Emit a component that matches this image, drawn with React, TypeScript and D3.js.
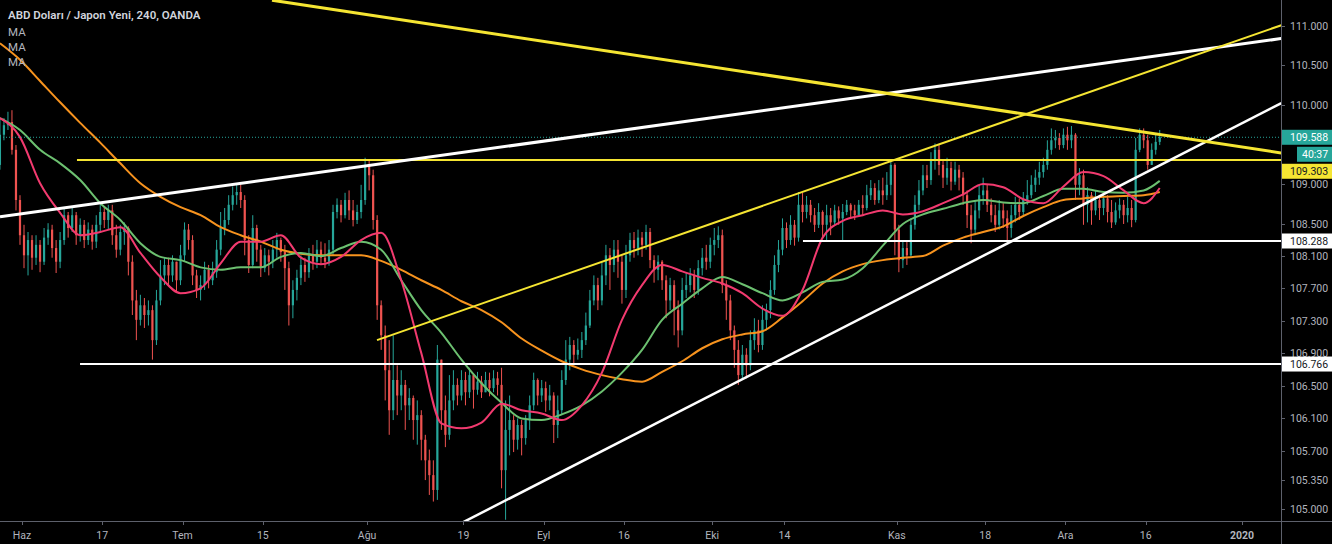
import React from 'react';
import * as d3 from 'd3';

// ---- data (USD/JPY, half-day bars, open = previous close) ----
const firstOpen = 109.24;
const closes = [
  109.62,109.74,109.78,109.43,108.80,108.36,108.11,108.30,108.08,108.24,
  108.03,108.33,108.43,108.20,108.03,108.30,108.61,108.45,108.61,108.36,
  108.49,108.30,108.43,108.28,108.49,108.65,108.55,108.67,108.36,108.18,
  108.40,108.45,108.03,107.55,107.31,107.49,107.37,107.43,107.06,107.55,
  107.86,107.99,107.86,108.03,107.80,108.11,108.43,108.30,107.86,107.68,
  107.74,107.93,107.80,107.90,108.18,108.45,108.55,108.74,108.86,108.90,
  108.80,108.30,107.99,108.45,108.18,107.95,108.11,108.03,108.18,108.30,
  108.15,107.95,107.49,107.68,107.83,107.99,107.90,108.11,108.03,108.18,
  108.08,108.03,108.18,108.65,108.74,108.61,108.80,108.67,108.55,108.65,
  108.80,109.24,109.11,108.55,107.49,107.12,106.69,106.20,106.57,106.38,
  106.51,106.26,106.35,106.08,106.14,105.84,105.59,105.41,105.23,106.82,
  106.20,105.90,106.32,106.51,106.38,106.57,106.42,106.63,106.45,106.55,
  106.42,106.57,106.47,106.59,106.51,105.47,105.96,106.08,105.84,106.02,
  105.86,106.08,106.26,106.57,106.38,106.47,106.32,106.38,106.02,106.20,
  106.57,106.82,107.00,106.88,106.94,107.06,107.24,107.55,107.74,107.55,
  107.86,108.11,107.99,108.18,108.03,107.68,108.11,108.30,108.20,108.33,
  108.24,108.40,108.05,107.93,108.03,107.80,107.55,107.74,107.43,107.18,
  107.68,107.74,107.86,107.68,107.95,108.08,108.03,108.24,108.30,108.36,
  107.74,107.55,107.18,106.94,106.63,106.88,106.75,107.06,107.18,107.00,
  107.31,107.43,107.68,107.99,108.18,108.45,108.30,108.49,108.33,108.74,
  108.65,108.74,108.61,108.49,108.65,108.49,108.61,108.52,108.67,108.57,
  108.65,108.74,108.67,108.61,108.74,108.70,108.86,108.95,108.80,108.92,
  108.86,108.99,109.24,108.43,108.05,108.20,108.11,108.49,108.74,108.92,
  109.11,109.05,109.30,109.43,109.24,109.08,109.20,109.03,109.18,109.08,
  108.86,108.61,108.43,108.67,108.86,108.92,108.74,108.61,108.49,108.67,
  108.57,108.45,108.61,108.74,108.65,108.80,108.86,108.99,109.08,109.15,
  109.24,109.43,109.55,109.58,109.49,109.62,109.55,109.62,108.99,109.11,
  108.74,108.86,108.67,108.80,108.70,108.82,108.65,108.52,108.67,108.74,
  108.61,108.70,108.55,109.43,109.62,109.55,109.24,109.43,109.53,109.588,
];
const highs = [
  109.83,109.83,109.91,109.93,109.49,108.86,108.49,108.40,108.36,108.36,
  108.30,108.45,108.51,108.49,108.30,108.40,108.71,108.65,108.71,108.65,
  108.57,108.55,108.52,108.49,108.61,108.74,108.71,108.74,108.74,108.49,
  108.49,108.52,108.47,108.11,107.68,107.62,107.58,107.55,107.49,107.68,
  108.05,108.08,108.08,108.11,108.03,108.24,108.52,108.50,108.36,107.93,
  107.86,108.03,107.99,108.03,108.30,108.65,108.70,108.86,108.97,109.01,
  108.99,108.86,108.36,108.61,108.49,108.24,108.20,108.18,108.30,108.39,
  108.33,108.24,108.03,107.80,107.93,108.11,108.08,108.20,108.24,108.30,
  108.28,108.26,108.30,108.74,108.82,108.80,108.89,108.92,108.80,108.74,
  108.99,109.33,109.30,109.18,108.61,107.55,107.24,107.06,107.12,106.75,
  106.69,106.57,106.47,106.38,106.32,106.20,105.90,105.72,105.59,107.00,
  106.75,106.38,106.63,106.69,106.59,106.69,106.67,106.72,106.63,106.67,
  106.62,106.67,106.66,106.69,106.67,106.72,106.32,106.38,106.14,106.10,
  106.08,106.14,106.38,106.66,106.59,106.57,106.55,106.51,106.42,106.38,
  106.69,107.06,107.10,107.06,107.08,107.16,107.40,107.68,107.86,107.83,
  108.03,108.24,108.20,108.30,108.30,108.11,108.24,108.39,108.40,108.43,
  108.40,108.49,108.45,108.11,108.11,108.05,107.86,107.83,107.80,107.55,
  107.83,107.90,107.95,107.93,108.05,108.20,108.24,108.33,108.45,108.47,
  108.43,107.80,107.62,107.24,107.06,107.00,106.96,107.18,107.33,107.31,
  107.49,107.51,107.80,108.11,108.30,108.57,108.52,108.61,108.55,108.90,
  108.89,108.85,108.80,108.70,108.76,108.67,108.74,108.70,108.74,108.72,
  108.75,108.80,108.76,108.74,108.80,108.86,108.99,109.05,109.01,109.05,
  109.08,109.15,109.30,109.26,108.49,108.30,108.28,108.57,108.86,109.05,
  109.24,109.24,109.40,109.51,109.49,109.30,109.33,109.28,109.28,109.24,
  109.15,108.92,108.74,108.80,108.99,109.08,108.99,108.82,108.74,108.80,
  108.76,108.67,108.74,108.84,108.82,108.90,109.05,109.11,109.18,109.28,
  109.33,109.55,109.70,109.68,109.64,109.70,109.72,109.73,109.64,109.20,
  109.18,108.96,108.90,108.92,108.84,108.90,108.86,108.80,108.77,108.82,
  108.80,108.84,108.80,109.58,109.70,109.70,109.62,109.51,109.62,109.68,
];
const lows = [
  109.18,109.55,109.68,109.37,108.67,108.24,107.95,107.86,107.93,107.99,
  107.90,107.99,108.24,108.08,107.89,107.95,108.24,108.33,108.40,108.24,
  108.28,108.20,108.24,108.18,108.20,108.40,108.45,108.43,108.24,108.08,
  108.11,108.24,107.86,107.37,107.06,107.24,107.21,107.24,106.82,107.00,
  107.49,107.74,107.74,107.78,107.65,107.74,108.03,108.18,107.74,107.58,
  107.55,107.68,107.70,107.74,107.83,108.11,108.36,108.49,108.67,108.74,
  108.70,108.11,107.89,107.95,108.03,107.84,107.90,107.86,107.95,108.08,
  108.03,107.68,107.24,107.33,107.55,107.74,107.78,107.83,107.93,107.95,
  107.99,107.95,107.98,108.11,108.57,108.52,108.57,108.55,108.47,108.50,
  108.57,108.74,108.92,108.43,107.31,106.94,106.32,105.90,106.08,106.14,
  106.20,105.96,106.08,105.84,105.78,105.59,105.35,105.17,105.09,105.11,
  105.96,105.75,105.84,106.20,106.26,106.32,106.26,106.35,106.22,106.39,
  106.35,106.42,106.37,106.42,106.38,105.25,104.87,105.65,105.69,105.72,
  105.65,105.78,105.96,106.20,106.26,106.30,106.18,106.20,105.80,105.86,
  106.14,106.51,106.69,106.75,106.82,106.84,107.00,107.21,107.49,107.43,
  107.49,107.74,107.68,107.90,107.83,107.51,107.58,108.03,108.08,108.11,
  108.09,108.18,107.95,107.77,107.80,107.68,107.33,107.43,107.12,106.97,
  107.12,107.58,107.65,107.58,107.62,107.86,107.93,107.95,108.11,108.20,
  107.64,107.31,107.06,106.72,106.51,106.57,106.59,106.69,106.94,106.91,
  106.94,107.18,107.33,107.62,107.90,108.11,108.20,108.24,108.23,108.28,
  108.52,108.57,108.52,108.40,108.45,108.34,108.28,108.36,108.49,108.49,
  108.28,108.61,108.57,108.55,108.65,108.61,108.67,108.80,108.74,108.76,
  108.74,108.80,108.86,108.11,107.90,107.95,107.99,108.08,108.43,108.67,
  108.86,108.95,108.99,109.18,109.11,108.95,108.99,108.92,108.99,108.92,
  108.74,108.45,108.26,108.36,108.57,108.74,108.65,108.52,108.40,108.43,
  108.45,108.28,108.33,108.52,108.55,108.61,108.74,108.82,108.90,108.99,
  109.08,109.18,109.37,109.45,109.43,109.45,109.43,109.45,108.80,108.86,
  108.49,108.52,108.49,108.61,108.55,108.61,108.52,108.45,108.49,108.57,
  108.50,108.52,108.46,108.52,109.40,109.45,109.18,109.24,109.37,109.49,
];

// moving averages, one reading every 5 bars (last one at the final bar)
const maStep = 5;
const maFast = [
  109.83,109.59,109.01,108.64,108.36,108.40,108.46,108.14,107.84,107.64,
  107.70,108.01,108.28,108.28,108.36,108.08,108.00,108.09,108.30,108.39,
  107.80,106.90,106.04,105.98,106.05,106.28,106.20,106.16,106.08,106.26,
  106.66,107.31,107.74,107.99,107.91,107.83,107.76,107.64,107.45,107.36,
  107.68,108.33,108.54,108.61,108.67,108.62,108.66,108.76,108.87,109.00,
  108.96,108.81,108.76,108.97,109.15,109.10,108.92,108.76,108.95,
];
const maMid = [
  109.83,109.68,109.43,109.26,109.05,108.76,108.55,108.26,108.09,108.05,
  107.96,107.93,107.96,107.96,108.09,108.14,108.10,108.20,108.28,108.18,
  107.80,107.43,107.15,106.82,106.53,106.29,106.10,106.08,106.15,106.26,
  106.43,106.66,106.94,107.31,107.51,107.70,107.84,107.75,107.64,107.55,
  107.65,107.78,107.81,107.95,108.23,108.50,108.62,108.69,108.76,108.80,
  108.77,108.76,108.85,108.94,108.94,108.90,108.89,108.92,109.04,
];
const maSlow = [
  110.78,110.57,110.30,110.03,109.77,109.52,109.26,109.01,108.84,108.71,
  108.61,108.46,108.36,108.28,108.18,108.13,108.11,108.11,108.11,108.04,
  107.93,107.80,107.68,107.54,107.43,107.28,107.08,106.93,106.80,106.70,
  106.63,106.58,106.55,106.67,106.80,106.96,107.07,107.13,107.17,107.34,
  107.54,107.76,107.91,108.00,108.05,108.08,108.10,108.23,108.33,108.40,
  108.47,108.60,108.71,108.80,108.82,108.84,108.85,108.86,108.90,
];

// drawings: [day1, price1, day2, price2]  (day = trading-day index from 29 May)
const yellowDownTrend = [34.15, 111.33, 159.9, 109.39];
const yellowUpTrend = [47.23, 107.06, 159.9, 111.01];
const whiteUpperTrend = [0.26, 108.59, 159.9, 110.84];
const whiteLowerTrend = [57.95, 104.84, 159.9, 110.02];
const levelYellow = [9.85, 109.303];
const levelWhiteLow = [10.23, 106.766];
const levelWhiteMid = [100.3, 108.288];

const priceTicks = [111, 110.5, 110, 109, 108.5, 108.1, 107.7, 107.3, 106.9, 106.5, 106.1, 105.7, 105.35, 105];
const timeLabels = ['Haz', '17', 'Tem', '15', 'Ağu', '19', 'Eyl', '16', 'Eki', '14', 'Kas', '18', 'Ara', '16', '2020'];
const timeDays = [3, 13, 23, 33, 46, 58, 68, 78, 89, 98, 112, 123, 133, 143, 155];

const lastPrice = 109.588;
const countdown = '40:37';
const title = 'ABD Doları / Japon Yeni, 240, OANDA';
const legendItems = ['MA', 'MA', 'MA'];

export default function App() {
  const W = 1332, H = 544;
  const PR = 1281, PB = 521;
  const font = 'Roboto, "Liberation Sans", sans-serif';
  const x = d3.scaleLinear().domain([0, 155]).range([-2.08, 1242]);
  const y = d3.scaleLog().domain([105, 111]).range([509, 26]);
  const barDay = (i: number) => i * 0.5 + 0.25;

  const candles = closes.map((c, i) => {
    const o = i === 0 ? firstOpen : closes[i - 1];
    return { d: barDay(i), o, c, h: Math.max(highs[i], o, c), l: Math.min(lows[i], o, c) };
  });

  const lastBar = closes.length - 1;
  const maLine = d3.line<[number, number]>()
    .x(p => x(barDay(p[0])))
    .y(p => y(p[1]))
    .curve(d3.curveMonotoneX);
  const maPath = (arr: number[]) =>
    maLine(arr.map((v, k) => [k === arr.length - 1 ? lastBar : k * maStep, v] as [number, number])) || '';

  const up = '#26a69a', down = '#ef5350';
  const bw = 2.2;

  const seg = (t: number[]) => ({ x1: x(t[0]), y1: y(t[1]), x2: x(t[2]), y2: y(t[3]) });

  const lastY = y(lastPrice);
  const boxH = 15;
  const lpTop = lastY - boxH / 2;
  const cdTop = lpTop + boxH + 2;
  const yelCenter = Math.max(y(levelYellow[1]), cdTop + boxH + 2 + boxH / 2);

  const axisColor = '#5d606b';
  const textColor = '#b2b5be';

  return (
    <svg width={W} height={H} style={{ position: 'absolute', left: 0, top: 0, display: 'block' }} fontFamily={font}>
      <defs>
        <clipPath id="plot"><rect x={0} y={0} width={PR} height={PB} /></clipPath>
      </defs>
      <rect x={0} y={0} width={W} height={H} fill="#000" />
      <g clipPath="url(#plot)">
        {candles.map((k, i) => {
          const cx = x(k.d);
          const col = k.c >= k.o ? up : down;
          const top = y(Math.max(k.o, k.c));
          const bot = y(Math.min(k.o, k.c));
          return (
            <g key={i}>
              <line x1={cx} x2={cx} y1={y(k.h)} y2={y(k.l)} stroke={col} strokeWidth={1} />
              <rect x={cx - bw / 2} y={top} width={bw} height={Math.max(1, bot - top)} fill={col} />
            </g>
          );
        })}
        <path d={maPath(maSlow)} fill="none" stroke="#f7931e" strokeWidth={2} />
        <path d={maPath(maMid)} fill="none" stroke="#6cc070" strokeWidth={2} />
        <path d={maPath(maFast)} fill="none" stroke="#f23a6f" strokeWidth={2} />
        <line x1={0} x2={PR} y1={lastY} y2={lastY} stroke={up} strokeWidth={1} strokeDasharray="1 2" />
        <line x1={x(levelYellow[0])} x2={PR} y1={y(levelYellow[1])} y2={y(levelYellow[1])} stroke="#f5e532" strokeWidth={2} />
        <line x1={x(levelWhiteLow[0])} x2={PR} y1={y(levelWhiteLow[1])} y2={y(levelWhiteLow[1])} stroke="#fff" strokeWidth={2} />
        <line x1={x(levelWhiteMid[0])} x2={PR} y1={y(levelWhiteMid[1])} y2={y(levelWhiteMid[1])} stroke="#fff" strokeWidth={2} />
        <line {...seg(whiteUpperTrend)} stroke="#fff" strokeWidth={3} />
        <line {...seg(whiteLowerTrend)} stroke="#fff" strokeWidth={2.5} />
        <line {...seg(yellowUpTrend)} stroke="#f5e532" strokeWidth={2} />
        <line {...seg(yellowDownTrend)} stroke="#f5e532" strokeWidth={3} />
      </g>

      {/* axes */}
      <line x1={PR + 0.5} x2={PR + 0.5} y1={0} y2={H} stroke={axisColor} strokeWidth={1} />
      <line x1={0} x2={W} y1={PB + 0.5} y2={PB + 0.5} stroke={axisColor} strokeWidth={1} />

      {priceTicks.map((p, i) => (
        <g key={i}>
          <line x1={PR} x2={PR + 4} y1={Math.round(y(p)) + 0.5} y2={Math.round(y(p)) + 0.5} stroke={axisColor} />
          <text x={PR + 9} y={y(p) + 4} fontSize={10.5} fill={textColor}>{d3.format('.3f')(p)}</text>
        </g>
      ))}

      {/* price labels */}
      <rect x={PR + 1} y={lpTop} width={W - PR - 1} height={boxH} fill={up} />
      <text x={PR + 9} y={lastY + 4} fontSize={10.5} fill="#fff">{d3.format('.3f')(lastPrice)}</text>
      <rect x={PR + 16} y={cdTop} width={W - PR - 16} height={boxH} fill={up} />
      <text x={PR + 21} y={cdTop + boxH / 2 + 4} fontSize={10.5} fill="#fff">{countdown}</text>
      <rect x={PR + 1} y={yelCenter - boxH / 2} width={W - PR - 1} height={boxH} fill="#f5e532" />
      <text x={PR + 9} y={yelCenter + 4} fontSize={10.5} fill="#131722">{d3.format('.3f')(levelYellow[1])}</text>
      {[levelWhiteMid, levelWhiteLow].map((lv, i) => (
        <g key={i}>
          <rect x={PR + 1} y={y(lv[1]) - boxH / 2} width={W - PR - 1} height={boxH} fill="#fff" />
          <text x={PR + 9} y={y(lv[1]) + 4} fontSize={10.5} fill="#131722">{d3.format('.3f')(lv[1])}</text>
        </g>
      ))}

      {/* time axis */}
      {timeDays.map((d, i) => (
        <g key={i}>
          <line x1={Math.round(x(d)) + 0.5} x2={Math.round(x(d)) + 0.5} y1={PB} y2={PB + 4} stroke={axisColor} />
          <text x={x(d)} y={539} fontSize={10.5} fill={textColor} textAnchor="middle"
            fontWeight={timeLabels[i] === '2020' ? 700 : 400}>{timeLabels[i]}</text>
        </g>
      ))}

      {/* legend */}
      <text x={8} y={19} fontSize={11.5} fontWeight={600} fill="#d1d4dc">{title}</text>
      {legendItems.map((t, i) => (
        <text key={i} x={8} y={36 + i * 15} fontSize={11.5} fill={textColor}>{t}</text>
      ))}
    </svg>
  );
}
